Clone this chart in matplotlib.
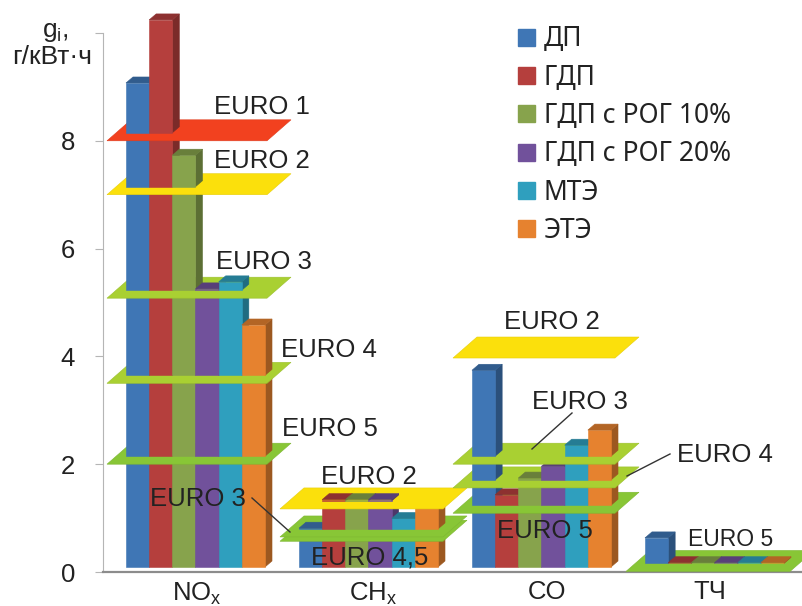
import matplotlib
matplotlib.use('Agg')
import matplotlib.pyplot as plt
from matplotlib.patches import Polygon, Patch
from matplotlib.transforms import Affine2D
from matplotlib.colors import to_rgb

plt.rcParams['font.family'] = ['Liberation Sans', 'DejaVu Sans']
plt.rcParams['mathtext.default'] = 'regular'

# Data
categories = ['NO$_x$', 'CH$_x$', 'CO', 'ТЧ']
series_names = ['ДП', 'ГДП', 'ГДП с РОГ 10%', 'ГДП с РОГ 20%', 'МТЭ', 'ЭТЭ']
dp = [8.98, 0.72, 3.65, 0.54]
gdp = [10.15, 1.25, 1.34, 0.08]
gdp_rog10 = [7.64, 1.25, 1.65, 0.08]
gdp_rog20 = [5.16, 1.25, 1.87, 0.08]
mte = [5.29, 0.90, 2.26, 0.08]
ete = [4.49, 1.10, 2.54, 0.08]
series_values = [dp, gdp, gdp_rog10, gdp_rog20, mte, ete]

# Limit planes for each category, lowest first
nox_limits = [2.0, 3.5, 5.08, 7.0, 8.0]
chx_limits = [0.57, 0.65, 1.17]
co_limits = [1.09, 1.56, 2.0, 3.97]
pm_limits = [0.01]
limits = [nox_limits, chx_limits, co_limits, pm_limits]

RED = '#f2411f'
YELLOW = '#fbe00c'
LIME = '#a9d032'
GREEN = '#88c636'
nox_plane_colors = [GREEN, LIME, LIME, YELLOW, RED]
chx_plane_colors = [GREEN, GREEN, YELLOW]
co_plane_colors = [GREEN, LIME, LIME, YELLOW]
pm_plane_colors = [GREEN]
plane_colors = [nox_plane_colors, chx_plane_colors, co_plane_colors, pm_plane_colors]

bar_colors = ['#3f76b5', '#b53f3d', '#87a34c', '#71519b', '#2f9fbe', '#e6822f']

# Geometry of the fake 3D, in pixels of the original picture
W, H = 803, 606
AX_L, AX_R, AX_T, AX_B = 103, 803, 33, 572
PX_Y = 53.9
PX_X = 173.0
BAR_W = 23.17 / PX_X
DEPTH_X, DEPTH_Y = 7 / PX_X, 6 / PX_Y
FLOOR = 5 / PX_Y
CROSS = 8 / PX_Y
PLANE_X, PLANE_Y = 24 / PX_X, 21 / PX_Y
PLANE_LEFT = 19 / PX_X
plane_right = [2 / PX_X, 5 / PX_X, 4 / PX_X, 6 / PX_X]
label_shift = [1.5 / PX_X, 5 / PX_X, 5.5 / PX_X, -4.5 / PX_X]


def shade(color, k):
    return tuple(c * k for c in to_rgb(color))


fig = plt.figure(figsize=(W / 100, H / 100), dpi=100)
ax = fig.add_axes([AX_L / W, 1 - AX_B / H, (AX_R - AX_L) / W, (AX_B - AX_T) / H])
ax.set_xlim((AX_L - 195.5) / PX_X, (AX_R - 195.5) / PX_X)
ax.set_ylim(0, 10)

# pixel coordinates for the labels
px = Affine2D().scale(1, -1).translate(0, H)

layer = [10]


def add_poly(points, color, edge=None):
    layer[0] += 1
    ax.add_patch(Polygon(points, closed=True, facecolor=color, edgecolor=edge or color,
                         linewidth=0.4, zorder=layer[0], clip_on=False))


def draw_interval(group, lo, hi):
    # bars are painted slice by slice between two planes
    for i, values in enumerate(series_values):
        top = values[group] + FLOOR
        if top <= lo:
            continue
        seg_hi = min(top, hi)
        x0 = group - 3 * BAR_W + i * BAR_W
        x1 = x0 + BAR_W
        add_poly([(x1, lo), (x1, seg_hi), (x1 + DEPTH_X, seg_hi + DEPTH_Y), (x1 + DEPTH_X, lo + DEPTH_Y)],
                 shade(bar_colors[i], 0.68))
        add_poly([(x0, lo), (x1, lo), (x1, seg_hi), (x0, seg_hi)], bar_colors[i])
        if top <= hi:
            add_poly([(x0, top), (x1, top), (x1 + DEPTH_X, top + DEPTH_Y), (x0 + DEPTH_X, top + DEPTH_Y)],
                     shade(bar_colors[i], 0.78))


for group in range(len(categories)):
    lo = FLOOR
    for value, color in zip(limits[group], plane_colors[group]):
        hi = value + CROSS
        draw_interval(group, lo, hi)
        left = group - 3 * BAR_W - PLANE_LEFT
        right = group + 3 * BAR_W + plane_right[group]
        add_poly([(left, value), (right, value), (right + PLANE_X, value + PLANE_Y), (left + PLANE_X, value + PLANE_Y)],
                 color, shade(color, 0.92))
        lo = hi
    draw_interval(group, lo, 1e9)

# Axes
for side in ['top', 'right']:
    ax.spines[side].set_visible(False)
ax.spines['left'].set_color('#b5b5b5')
ax.spines['left'].set_linewidth(0.8)
ax.spines['bottom'].set_color('#8c8c8c')
ax.spines['bottom'].set_linewidth(1.6)
ax.spines['bottom'].set_zorder(5)
ax.set_yticks([0, 2, 4, 6, 8, 10])
ax.set_yticklabels(['0', '2', '4', '6', '8', ''])
ax.tick_params(axis='y', length=6, color='#b5b5b5', pad=14, labelsize=18.5, labelcolor='#222222')
ax.set_xticks([k + label_shift[k] for k in range(len(categories))])
ax.set_xticklabels(categories)
ax.tick_params(axis='x', length=0, pad=6, labelsize=18.5, labelcolor='#222222')

fig.text(55, 32, 'g$_i$,', transform=px, fontsize=19, color='#222222', ha='center', va='center')
fig.text(52, 57, 'г/кВт·ч', transform=px, fontsize=19, color='#222222', ha='center', va='center')

# Labels of the planes: text, x centre, y centre, size
euro_labels = [
    ('EURO 1', 262, 107, 18.5), ('EURO 2', 262, 161, 18.5), ('EURO 3', 264, 262, 18.5),
    ('EURO 4', 329, 350, 18.5), ('EURO 5', 330, 429, 18.5), ('EURO 2', 369, 477, 18.5),
    ('EURO 3', 198, 499, 18.5), ('EURO 4,5', 370, 557, 18.5), ('EURO 2', 552, 322, 18.5),
    ('EURO 3', 580, 402, 18.5), ('EURO 4', 725, 455, 18.5), ('EURO 5', 545, 531, 18.5),
    ('EURO 5', 731, 540, 16.5),
]
for label, x, y, size in euro_labels:
    fig.text(x, y, label, transform=px, fontsize=size, color='#222222', ha='center', va='center', zorder=100)

leader_lines = [((252, 498), (290, 532)), ((572, 413), (532, 449)), ((670, 454), (627, 476))]
for a, b in leader_lines:
    fig.add_artist(plt.Line2D([a[0], b[0]], [a[1], b[1]], transform=px, color='#333333', linewidth=1, zorder=100))

handles = [Patch(facecolor=c, edgecolor=c) for c in bar_colors]
leg = fig.legend(handles, series_names, loc='upper left', bbox_to_anchor=(500, 7), bbox_transform=px,
                 frameon=False, prop={'family': ['Noto Sans', 'DejaVu Sans'], 'size': 19},
                 handlelength=0.62, handleheight=0.62, handletextpad=0.33, labelspacing=0.39,
                 labelcolor='#222222', borderpad=0.2)
leg.set_zorder(100)

fig.savefig('out.png', dpi=100)
